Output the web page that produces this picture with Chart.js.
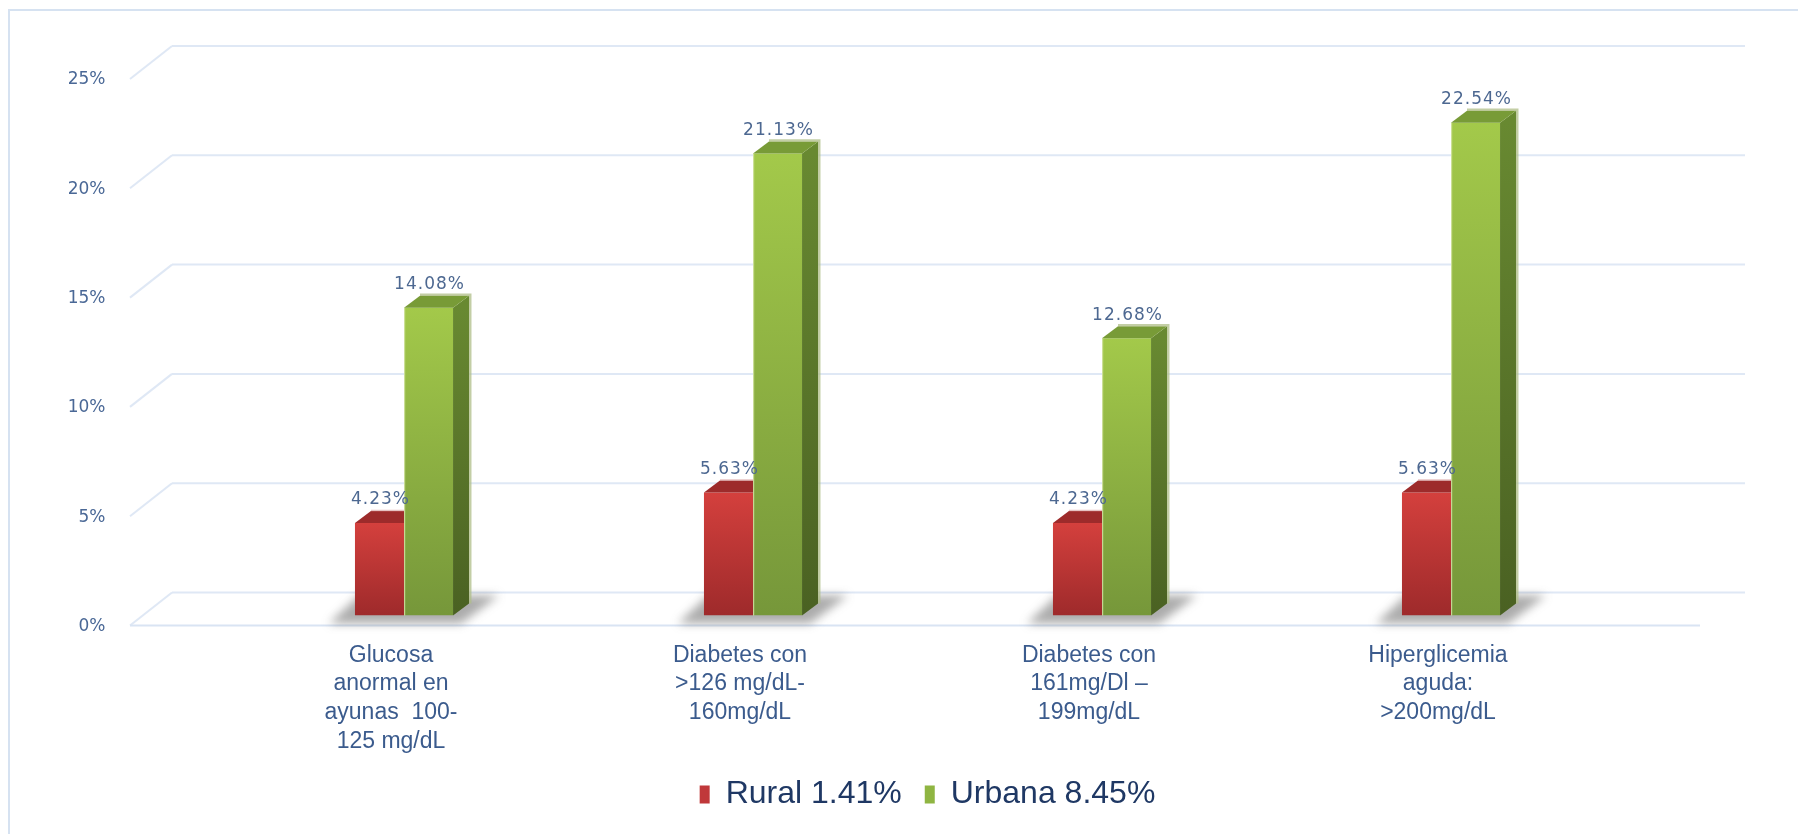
<!DOCTYPE html>
<html><head><meta charset="utf-8">
<script src="https://cdn.jsdelivr.net/npm/chart.js@4.4.0/dist/chart.umd.min.js"></script>
<style>html,body{margin:0;padding:0;background:#fff;} canvas{display:block;}</style>
</head><body>
<canvas id="c" width="1798" height="834"></canvas>
<script>
const categories = [
  ["Glucosa", "anormal en", "ayunas  100-", "125 mg/dL"],
  ["Diabetes con", ">126 mg/dL-", "160mg/dL"],
  ["Diabetes con", "161mg/Dl \u2013", "199mg/dL"],
  ["Hiperglicemia", "aguda:", ">200mg/dL"]
];
const seriesNames = ["Rural 1.41%", "Urbana 8.45%"];
const ruralValues = [4.23, 5.63, 4.23, 5.63];
const urbanValues = [14.08, 21.13, 12.68, 22.54];
const yTicks = [0, 5, 10, 15, 20, 25];

const DX = 16, DY = 12;

function faceGradient(top, bottom) {
  return (ctx) => {
    const chart = ctx.chart;
    if (ctx.type !== 'data' || !chart.chartArea || !chart.scales.y) return top;
    const ys = chart.scales.y;
    const yT = ys.getPixelForValue(ctx.raw);
    const yB = ys.getPixelForValue(0);
    const g = chart.ctx.createLinearGradient(0, yT, 0, yB);
    g.addColorStop(0, top);
    g.addColorStop(1, bottom);
    return g;
  };
}

const frame = {
  id: 'frame',
  beforeDraw(chart) {
    const c = chart.ctx;
    c.save();
    c.fillStyle = '#ffffff';
    c.fillRect(0, 0, chart.width, chart.height);
    c.strokeStyle = '#d6e2f1';
    c.lineWidth = 2;
    c.strokeRect(9, 10, chart.width + 20, chart.height + 20);
    c.restore();
  }
};

const bar3d = {
  id: 'bar3d',
  beforeDatasetsDraw(chart) {
    const c = chart.ctx, ys = chart.scales.y;
    c.save();
    c.strokeStyle = '#dfe8f5';
    c.lineWidth = 2;
    yTicks.forEach(v => {
      const yb = ys.getPixelForValue(v);
      c.beginPath(); c.moveTo(172, yb - 23); c.lineTo(1745, yb - 23); c.stroke();
      c.beginPath(); c.moveTo(130, yb + 10); c.lineTo(172, yb - 23); c.stroke();
    });
    const y0 = ys.getPixelForValue(0);
    c.strokeStyle = '#d9e4f3';
    c.beginPath(); c.moveTo(130, y0 + 10); c.lineTo(1700, y0 + 10); c.stroke();

    const m0 = chart.getDatasetMeta(0), m1 = chart.getDatasetMeta(1);
    c.filter = 'blur(5px)';
    c.fillStyle = 'rgba(70,70,70,0.45)';
    m0.data.forEach((r, i) => {
      const u = m1.data[i];
      const xl = r.x - r.width / 2, xr = u.x + u.width / 2;
      c.beginPath();
      c.moveTo(xl - 26, y0 + 8);
      c.lineTo(xl + 4, y0 - 20);
      c.lineTo(xr + DX + 30, y0 - 20);
      c.lineTo(xr + 8, y0 + 8);
      c.closePath();
      c.fill();
    });
    c.restore();
  },
  afterDatasetsDraw(chart) {
    const c = chart.ctx;
    const m0 = chart.getDatasetMeta(0), m1 = chart.getDatasetMeta(1);
    c.save();
    m0.data.forEach((r, i) => {
      const u = m1.data[i];
      let xl = r.x - r.width / 2, xr = r.x + r.width / 2, yt = r.y;
      c.fillStyle = '#9d2b2b';
      c.beginPath();
      c.moveTo(xl, yt); c.lineTo(xr, yt); c.lineTo(xr, yt - DY); c.lineTo(xl + DX, yt - DY);
      c.closePath(); c.fill();
      c.strokeStyle = 'rgba(220,170,170,0.7)'; c.lineWidth = 1.5;
      c.beginPath(); c.moveTo(xl + DX, yt - DY - 0.5); c.lineTo(xr, yt - DY - 0.5); c.stroke();
      xl = u.x - u.width / 2; xr = u.x + u.width / 2; yt = u.y;
      const yb = u.base;
      const g = c.createLinearGradient(0, yt, 0, yb);
      g.addColorStop(0, '#688931'); g.addColorStop(1, '#4a6122');
      c.fillStyle = g;
      c.beginPath();
      c.moveTo(xr, yt); c.lineTo(xr + DX, yt - DY); c.lineTo(xr + DX, yb - DY); c.lineTo(xr, yb);
      c.closePath(); c.fill();
      c.fillStyle = '#789b37';
      c.beginPath();
      c.moveTo(xl, yt); c.lineTo(xr, yt); c.lineTo(xr + DX, yt - DY); c.lineTo(xl + DX, yt - DY);
      c.closePath(); c.fill();
      c.strokeStyle = 'rgba(175,190,135,0.75)'; c.lineWidth = 2.5;
      c.beginPath();
      c.moveTo(xl + DX, yt - DY - 1); c.lineTo(xr + DX + 1.2, yt - DY - 1); c.lineTo(xr + DX + 1.2, yb - DY);
      c.stroke();
      c.strokeStyle = 'rgba(215,230,170,0.8)'; c.lineWidth = 1.2;
      c.beginPath(); c.moveTo(xl + 0.6, yt); c.lineTo(xl + 0.6, yb); c.stroke();
    });
    c.font = '17px "DejaVu Sans", Verdana, sans-serif';
    c.fillStyle = '#4d6891';
    c.textAlign = 'center';
    c.textBaseline = 'middle';
    try { c.letterSpacing = '1px'; } catch (e) {}
    [m0, m1].forEach((m, di) => {
      const vals = di === 0 ? ruralValues : urbanValues;
      m.data.forEach((el, i) => {
        c.fillText(vals[i].toFixed(2) + '%', el.x + 1, el.y - DY - 11);
      });
    });
    c.restore();
  }
};

new Chart(document.getElementById('c'), {
  type: 'bar',
  data: {
    labels: categories,
    datasets: [
      { label: seriesNames[0], data: ruralValues,
        backgroundColor: faceGradient('#d4403d', '#9e2a2b'), borderWidth: 0,
        categoryPercentage: 0.281, barPercentage: 1.0 },
      { label: seriesNames[1], data: urbanValues,
        backgroundColor: faceGradient('#a3c94a', '#76973a'), borderWidth: 0,
        categoryPercentage: 0.281, barPercentage: 1.0 }
    ]
  },
  options: {
    responsive: false,
    animation: false,
    devicePixelRatio: 1,
    layout: { padding: { left: 10, right: 172.5, top: 69, bottom: 13.5 } },
    plugins: {
      tooltip: { enabled: false },
      legend: {
        position: 'bottom',
        fullSize: false,
        labels: {
          boxWidth: 10, boxHeight: 18, padding: 23,
          color: '#1f3864',
          font: { family: '"Liberation Sans", Arial, sans-serif', size: 32 },
          generateLabels: (chart) => seriesNames.map((n, i) => ({
            text: n, fillStyle: i === 0 ? '#c0383a' : '#8fb542', strokeStyle: 'transparent',
            lineWidth: 0, datasetIndex: i, hidden: false, fontColor: '#1f3864'
          }))
        }
      }
    },
    scales: {
      x: {
        grid: { display: false, drawTicks: false },
        border: { display: false },
        ticks: {
          autoSkip: false, maxRotation: 0, minRotation: 0, padding: 25.5, labelOffset: -13,
          color: '#3b5b8d',
          font: { family: '"Liberation Sans", Arial, sans-serif', size: 23, lineHeight: 1.25 }
        },
        afterFit(scale) { scale.height = 140; }
      },
      y: {
        min: 0, max: 25,
        grid: { display: false, drawTicks: false },
        border: { display: false },
        afterBuildTicks(scale) { scale.ticks = yTicks.map(v => ({ value: v })); },
        ticks: {
          padding: 124, labelOffset: 11,
          color: '#4a6896',
          font: { family: '"DejaVu Sans", Verdana, sans-serif', size: 17 },
          callback: (v) => v + '%'
        },
        afterFit(scale) { scale.width = 219.5; scale.paddingTop = 10; scale.paddingBottom = 10; }
      }
    }
  },
  plugins: [frame, bar3d]
});
</script>
</body></html>
